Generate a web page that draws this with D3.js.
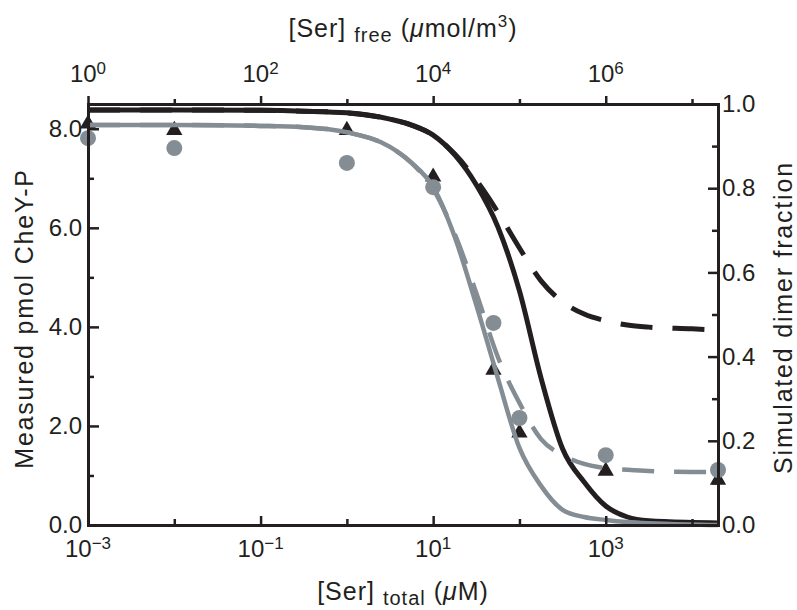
<!DOCTYPE html>
<html>
<head>
<meta charset="utf-8">
<script src="https://cdn.jsdelivr.net/npm/d3@7"></script>
<style>
body{margin:0;background:#fff;}
svg text{font-family:"Liberation Sans",Arial,Helvetica,sans-serif;fill:#231f20;}
</style>
</head>
<body>
<script>
// [Ser]total grid (uM) used for the simulated curves
const curveX = [0.001, 0.01, 0.1, 0.316, 1, 3.16, 5.62, 10, 17.8, 31.6, 56.2, 100, 178, 316, 562, 1000, 1780, 3160, 10000, 20000];
// simulated dimer fraction (right axis)
const blackSolid  = [0.986,0.986,0.985,0.983,0.979,0.964,0.950,0.926,0.879,0.808,0.708,0.556,0.349,0.181,0.102,0.045,0.019,0.010,0.006,0.005];
const blackDashed = [0.986,0.986,0.985,0.983,0.979,0.964,0.950,0.926,0.881,0.819,0.743,0.658,0.580,0.530,0.501,0.485,0.475,0.470,0.466,0.463];
const graySolid   = [0.950,0.950,0.948,0.945,0.933,0.898,0.860,0.803,0.684,0.523,0.349,0.183,0.093,0.036,0.019,0.012,0.007,0.004,0.001,0.000];
const grayDashed  = [0.950,0.950,0.948,0.945,0.933,0.898,0.860,0.798,0.691,0.551,0.399,0.290,0.204,0.166,0.145,0.135,0.131,0.128,0.126,0.126];

// measured pmol CheY-P (left axis)
const pointX    = [0.001, 0.01, 1, 10, 50, 100, 1000, 20000];
const triangles = [8.10, 7.97, 7.97, 7.03, 3.13, 1.86, 1.09, 0.91];
const circles   = [7.81, 7.61, 7.31, 6.82, 4.08, 2.16, 1.41, 1.11];

// ticks
const bottomMajor = [1e-3, 1e-1, 1e1, 1e3], bottomMinor = [1e-2, 1e0, 1e2, 1e4];
const topMajor = [1e0, 1e2, 1e4, 1e6], topMinor = [1e1, 1e3, 1e5, 1e7];
const leftMajor = [0, 2, 4, 6, 8], leftMinor = [1, 3, 5, 7];
const rightMajor = [0, 0.2, 0.4, 0.6, 0.8, 1.0], rightMinor = [0.1, 0.3, 0.5, 0.7, 0.9];

const size = {width: 797, height: 610, left: 88, right: 718, top: 104, bottom: 525};
const ink = '#231f20', gray = '#848d94';

const svg = d3.select('body').append('svg')
  .attr('width', size.width).attr('height', size.height);

const x = d3.scaleLog().domain([1e-3, 2e4]).range([size.left, size.right]);
const xTop = d3.scaleLog().domain([1, 2e7]).range([size.left, size.right]);
const yL = d3.scaleLinear().domain([0, 8.5]).range([size.bottom, size.top]);
const yR = d3.scaleLinear().domain([0, 1]).range([size.bottom, size.top]);

// points first, curves drawn over them
const pts = svg.append('g');
pts.selectAll('path.tri').data(pointX).enter().append('path')
  .attr('transform', (d, i) => `translate(${x(d)},${yL(triangles[i])})`)
  .attr('d', d3.symbol(d3.symbolTriangle, 115))
  .attr('fill', ink);
pts.selectAll('circle').data(pointX).enter().append('circle')
  .attr('cx', d => x(d)).attr('cy', (d, i) => yL(circles[i]))
  .attr('r', 8).attr('fill', gray);

const line = d3.line().curve(d3.curveMonotoneX);
const curve = (vals, color, width, dash) => {
  svg.append('path')
    .attr('d', line(curveX.map((d, i) => [x(d), yR(vals[i])])))
    .attr('fill', 'none').attr('stroke', color).attr('stroke-width', width)
    .attr('stroke-dasharray', dash);
};
curve(blackSolid, ink, 5, null);
curve(blackDashed, ink, 5, '32,20');
curve(graySolid, gray, 4.5, null);
curve(grayDashed, gray, 4.5, '32,20');

// axes
const styleAxis = g => {
  g.selectAll('.domain').attr('stroke', ink).attr('stroke-width', 3).attr('stroke-linecap', 'square');
  g.selectAll('.tick line').attr('stroke', ink).attr('stroke-width', 2.5);
  g.selectAll('.tick text').attr('font-size', 24).attr('font-family', null).attr('fill', ink);
};
const addAxis = (axis, tx, ty) => {
  const g = svg.append('g').attr('transform', `translate(${tx},${ty})`).call(axis);
  styleAxis(g);
  return g;
};

addAxis(d3.axisBottom(x).tickValues(bottomMinor).tickSize(-6).tickSizeOuter(0).tickFormat(''), 0, size.bottom).select('.domain').remove();
addAxis(d3.axisBottom(x).tickValues(bottomMajor).tickSize(-9).tickSizeOuter(0).tickFormat(''), 0, size.bottom);
addAxis(d3.axisTop(xTop).tickValues(topMinor).tickSize(5).tickSizeOuter(0).tickFormat(''), 0, size.top).select('.domain').remove();
addAxis(d3.axisTop(xTop).tickValues(topMajor).tickSize(8).tickSizeOuter(0).tickFormat(''), 0, size.top);
addAxis(d3.axisLeft(yL).tickValues(leftMinor).tickSize(-6).tickSizeOuter(0).tickFormat(''), size.left, 0).select('.domain').remove();
addAxis(d3.axisLeft(yL).tickValues(leftMajor).tickSize(-11).tickSizeOuter(0).tickPadding(6).tickFormat(d3.format('.1f')), size.left, 0);
addAxis(d3.axisRight(yR).tickValues(rightMinor).tickSize(-6).tickSizeOuter(0).tickFormat(''), size.right, 0).select('.domain').remove();
addAxis(d3.axisRight(yR).tickValues(rightMajor).tickSize(-10).tickSizeOuter(0).tickPadding(4).tickFormat(d3.format('.1f')), size.right, 0);

// power-of-ten labels
const powLabels = (scale, vals, y) => {
  svg.append('g').selectAll('text').data(vals).enter().append('text')
    .attr('x', d => scale(d)).attr('y', y)
    .attr('text-anchor', 'middle').attr('font-size', 24)
    .each(function (d) {
      const e = Math.round(Math.log10(d));
      const t = d3.select(this);
      t.append('tspan').text('10');
      t.append('tspan').attr('font-size', 17).attr('dy', -8)
        .text(e < 0 ? '\u2212' + (-e) : String(e));
    });
};
powLabels(x, bottomMajor, 557);
powLabels(xTop, topMajor, 82);

// axis titles
const topTitle = svg.append('text').attr('x', (size.left + size.right) / 2).attr('y', 37)
  .attr('text-anchor', 'middle').attr('font-size', 25).attr('letter-spacing', 1);
topTitle.append('tspan').text('[Ser] ');
topTitle.append('tspan').attr('font-size', 20).attr('dy', 5).text('free');
topTitle.append('tspan').attr('dy', -5).text(' (');
topTitle.append('tspan').attr('font-style', 'italic').text('\u03bc');
topTitle.append('tspan').text('mol/m');
topTitle.append('tspan').attr('font-size', 17).attr('dy', -10).text('3');
topTitle.append('tspan').attr('dy', 10).text(')');

const botTitle = svg.append('text').attr('x', (size.left + size.right) / 2).attr('y', 600)
  .attr('text-anchor', 'middle').attr('font-size', 25).attr('letter-spacing', 1);
botTitle.append('tspan').text('[Ser] ');
botTitle.append('tspan').attr('font-size', 20).attr('dy', 5).text('total');
botTitle.append('tspan').attr('dy', -5).text(' (');
botTitle.append('tspan').attr('font-style', 'italic').text('\u03bc');
botTitle.append('tspan').text('M)');

svg.append('text').attr('transform', `translate(33,${(size.top + size.bottom) / 2 + 4}) rotate(-90)`)
  .attr('text-anchor', 'middle').attr('font-size', 25).attr('letter-spacing', 1.8)
  .text('Measured pmol CheY-P');
svg.append('text').attr('transform', `translate(792,${(size.top + size.bottom) / 2 + 3}) rotate(-90)`)
  .attr('text-anchor', 'middle').attr('font-size', 25).attr('letter-spacing', 1.8)
  .text('Simulated dimer fraction');
</script>
</body>
</html>
